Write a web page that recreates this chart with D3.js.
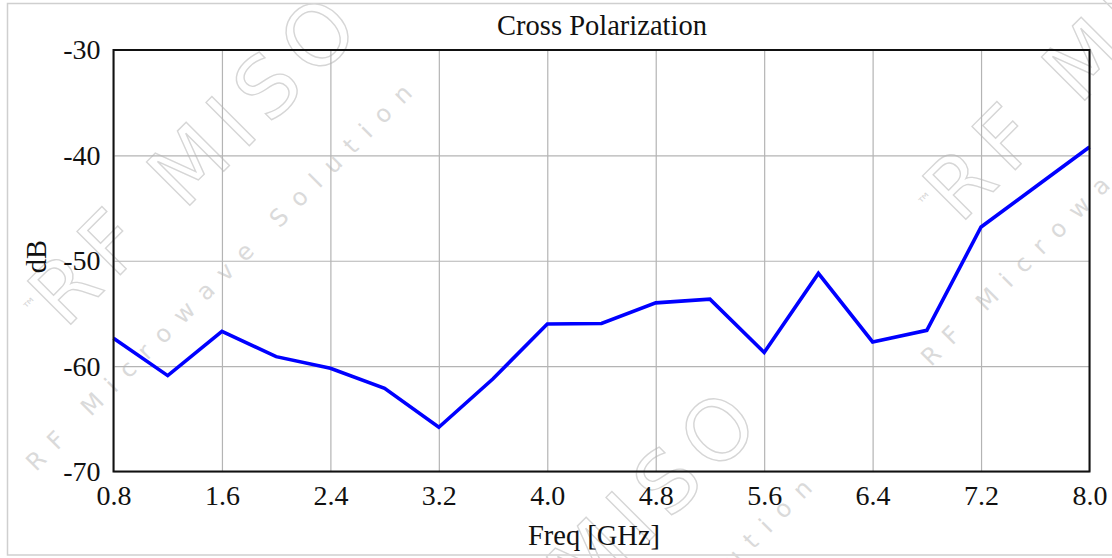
<!DOCTYPE html>
<html>
<head>
<meta charset="utf-8">
<script src="https://cdn.jsdelivr.net/npm/d3@7"></script>
<style>
  body { margin: 0; background: #fff; }
  svg text { font-family: "Liberation Serif", "Times New Roman", serif; }
</style>
</head>
<body>
<div id="chart"></div>
<script>
// data
var freqs = [0.8, 1.2, 1.6, 2.0, 2.4, 2.8, 3.2, 3.6, 4.0, 4.4, 4.8, 5.2, 5.6, 6.0, 6.4, 6.8, 7.2, 7.6, 8.0];
var xpol = [-57.35, -60.9, -56.7, -59.1, -60.2, -62.1, -65.8, -61.2, -56.0, -55.95, -54.0, -53.65, -58.7, -51.2, -57.7, -56.6, -46.8, -43.0, -39.2];
var xTicks = [0.8, 1.6, 2.4, 3.2, 4.0, 4.8, 5.6, 6.4, 7.2, 8.0];
var yTicks = [-30, -40, -50, -60, -70];

var svgWidth = 1112;
var svgHeight = 558;
var margin = { top: 50, right: 22.5, bottom: 86.5, left: 113.5 };
var width = svgWidth - margin.left - margin.right;
var height = svgHeight - margin.top - margin.bottom;

var svg = d3.select("#chart")
    .append("svg")
    .attr("width", svgWidth)
    .attr("height", svgHeight);

// light page border
svg.append("rect")
    .attr("x", 7.5).attr("y", 3.5)
    .attr("width", 1130).attr("height", 551.5)
    .attr("fill", "none")
    .attr("stroke", "#cfcfcf")
    .attr("stroke-width", 1.5);

// watermark (faint outlined text), drawn at 45 degrees
function watermark(x, y) {
    var g = svg.append("g")
        .attr("transform", "translate(" + x + "," + y + ") rotate(-45)");
    g.append("text")
        .attr("x", 0).attr("y", 0)
        .attr("textLength", 420)
        .attr("lengthAdjust", "spacing")
        .attr("fill", "none")
        .attr("stroke", "#d6d6d6")
        .attr("stroke-width", 1.4)
        .style("font-family", "DejaVu Sans")
        .style("font-size", "84px")
        .text("RF MISO");
    g.append("text")
        .attr("x", -121).attr("y", 80)
        .attr("textLength", 534)
        .attr("lengthAdjust", "spacing")
        .attr("fill", "#dadada")
        .style("font-family", "DejaVu Sans")
        .style("font-size", "24px")
        .text("RF Microwave Solution");
    g.append("text")
        .attr("x", -14).attr("y", -36)
        .attr("fill", "#d6d6d6")
        .style("font-family", "DejaVu Sans")
        .style("font-size", "16px")
        .text("\u2122");
}
watermark(65, 330);
watermark(960, 225);
watermark(465, 725);

var chartGroup = svg.append("g")
    .attr("transform", "translate(" + margin.left + "," + margin.top + ")");

var xScale = d3.scaleLinear().domain([0.8, 8.0]).range([0, width]);
var yScale = d3.scaleLinear().domain([-70, -30]).range([height, 0]);

// grid lines
chartGroup.append("g")
    .attr("transform", "translate(0," + height + ")")
    .call(d3.axisBottom(xScale).tickValues(xTicks).tickSize(-height).tickFormat(""))
    .call(function(g) { g.select(".domain").remove(); })
    .selectAll("line").attr("stroke", "#b4b4b4").attr("stroke-width", 1.2);

chartGroup.append("g")
    .call(d3.axisLeft(yScale).tickValues(yTicks).tickSize(-width).tickFormat(""))
    .call(function(g) { g.select(".domain").remove(); })
    .selectAll("line").attr("stroke", "#b4b4b4").attr("stroke-width", 1.2);

// tick labels
var xAxis = chartGroup.append("g")
    .attr("transform", "translate(0," + height + ")")
    .call(d3.axisBottom(xScale).tickValues(xTicks).tickSize(0).tickPadding(14)
        .tickFormat(function(d) { return d.toFixed(1); }));
xAxis.select(".domain").remove();
xAxis.selectAll("text").attr("fill", "#111").style("font-size", "28px")
    .style("font-family", "Liberation Serif");

var yAxis = chartGroup.append("g")
    .call(d3.axisLeft(yScale).tickValues(yTicks).tickSize(0).tickPadding(13)
        .tickFormat(function(d) { return String(d); }));
yAxis.select(".domain").remove();
yAxis.selectAll("text").attr("fill", "#111").style("font-size", "28px")
    .style("font-family", "Liberation Serif");

// data line
var line = d3.line()
    .x(function(d, i) { return xScale(freqs[i]); })
    .y(function(d) { return yScale(d); });

chartGroup.append("path")
    .datum(xpol)
    .attr("fill", "none")
    .attr("stroke", "#0000ff")
    .attr("stroke-width", 3.6)
    .attr("stroke-linejoin", "miter")
    .attr("d", line);

// plot frame
chartGroup.append("rect")
    .attr("width", width).attr("height", height)
    .attr("fill", "none")
    .attr("stroke", "#111")
    .attr("stroke-width", 2);

// title and axis labels
svg.append("text")
    .attr("x", 602)
    .attr("y", 35)
    .attr("text-anchor", "middle")
    .style("font-size", "28.5px")
    .attr("fill", "#111")
    .text("Cross Polarization");

svg.append("text")
    .attr("x", 594)
    .attr("y", 545)
    .attr("text-anchor", "middle")
    .style("font-size", "28.5px")
    .attr("fill", "#111")
    .text("Freq [GHz]");

svg.append("text")
    .attr("transform", "translate(46,256.5) rotate(-90)")
    .attr("text-anchor", "middle")
    .style("font-size", "28.5px")
    .attr("fill", "#111")
    .text("dB");
</script>
</body>
</html>
